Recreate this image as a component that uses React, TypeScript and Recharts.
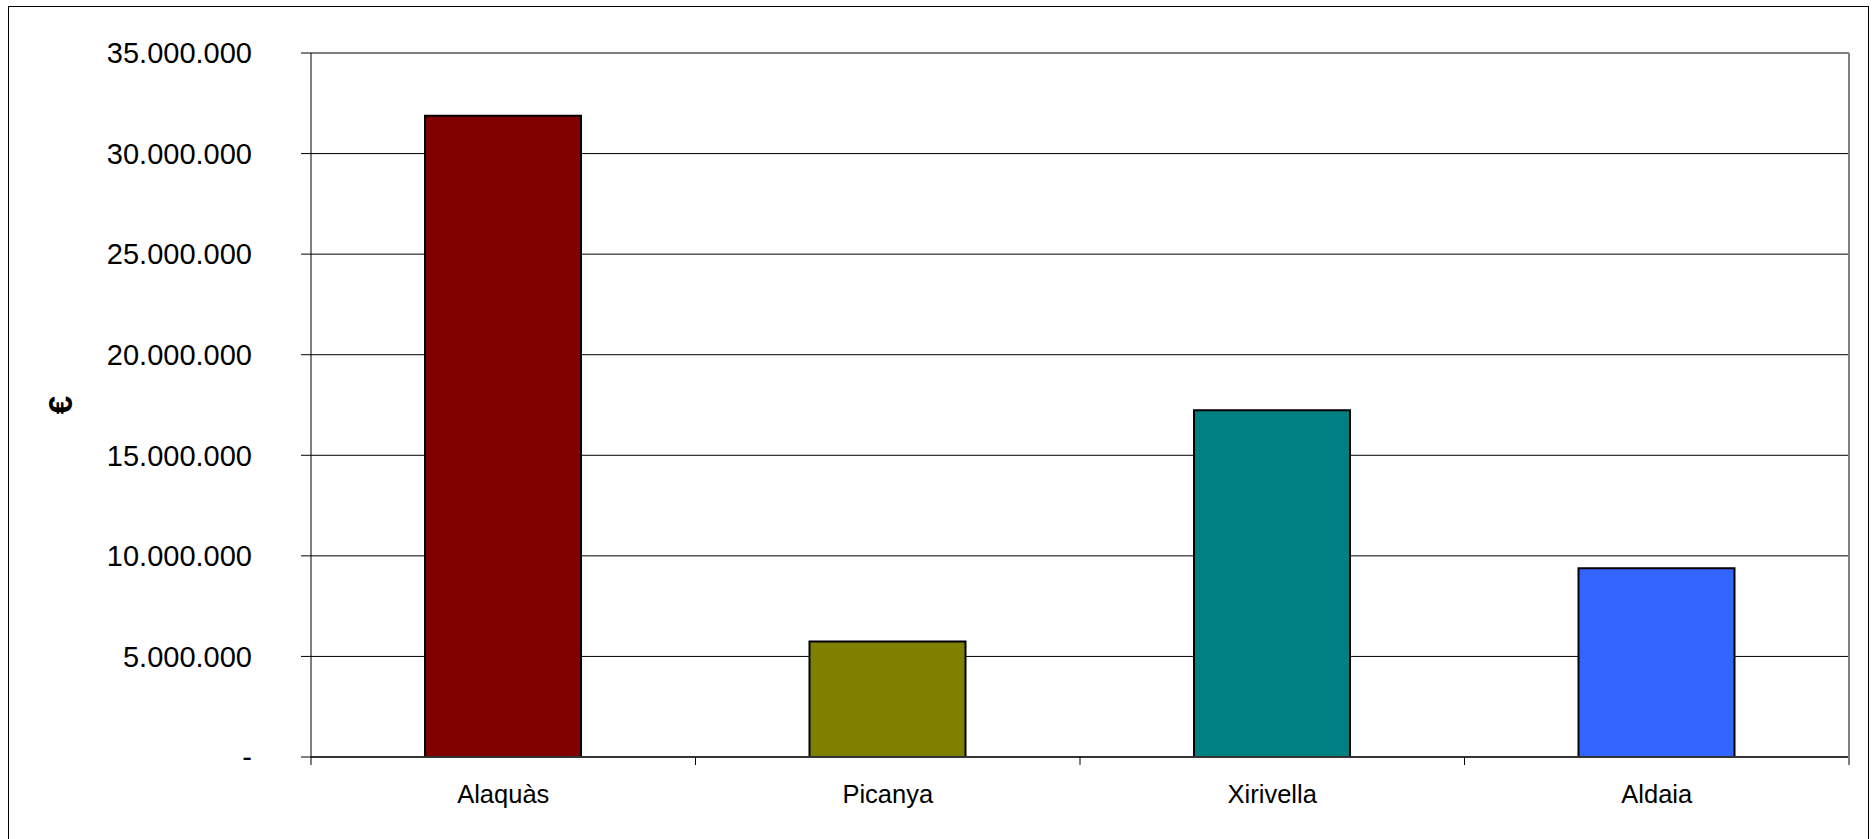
import { BarChart, Bar, XAxis, YAxis, CartesianGrid, Cell, ReferenceLine } from "recharts"

const municipalities = ["Alaquàs", "Picanya", "Xirivella", "Aldaia"]
const amounts = [31880000, 5740000, 17240000, 9390000]
const barColors = ["#800000", "#808000", "#008080", "#3366FF"]
const yTicks = [0, 5000000, 10000000, 15000000, 20000000, 25000000, 30000000, 35000000]

const W = 1872
const H = 839
const margin = { top: 53, right: 22, bottom: 32, left: 11 }
const Y_AXIS_W = 300
const X_AXIS_H = 50
const plotWidth = W - margin.left - margin.right - Y_AXIS_W - 1
const band = plotWidth / municipalities.length

const font = "'Liberation Sans', Arial, sans-serif"

const data = municipalities.map((name, i) => ({ name, value: amounts[i] }))

// thousands separated with dots, zero shown as a dash
const fmt = (v: number) => (v === 0 ? "-" : String(v).replace(/\B(?=(\d{3})+(?!\d))/g, "."))

function CategoryTick(props: any) {
  const { x, y, payload, index } = props
  const isLast = index === municipalities.length - 1
  return (
    <g>
      <line x1={x - band / 2} y1={y} x2={x - band / 2} y2={y + 8} stroke="#000" strokeWidth={1} />
      {isLast && <line x1={x + band / 2} y1={y} x2={x + band / 2} y2={y + 8} stroke="#808080" strokeWidth={2} />}
      <text x={x} y={y + 46} textAnchor="middle" fontSize={25.5} fontFamily={font} fill="#000">
        {payload.value}
      </text>
    </g>
  )
}

function EuroLabel(props: any) {
  const { viewBox } = props
  const cx = viewBox.x + 49
  const cy = viewBox.y + viewBox.height / 2
  return (
    <text
      x={cx}
      y={cy}
      transform={`rotate(-90 ${cx} ${cy})`}
      textAnchor="middle"
      dominantBaseline="central"
      fontSize={33}
      fontWeight="bold"
      fontFamily={font}
      fill="#000"
    >
      €
    </text>
  )
}

export default function App() {
  return (
    <div style={{ position: "absolute", left: 0, top: 0, width: W, height: H, overflow: "hidden", background: "#fff" }}>
      <div
        style={{
          position: "absolute",
          left: 8,
          top: 6,
          width: 1861,
          height: 900,
          border: "1px solid #000",
          boxSizing: "border-box",
        }}
      />
      <div style={{ position: "absolute", left: 0, top: 0 }}>
        <BarChart width={W} height={H} data={data} margin={margin} barCategoryGap={0}>
          <CartesianGrid vertical={false} stroke="#000" strokeWidth={1} />
          <XAxis
            dataKey="name"
            height={X_AXIS_H}
            axisLine={{ stroke: "#333", strokeWidth: 2 }}
            tickLine={false}
            tickSize={0}
            tickMargin={0}
            interval={0}
            tick={<CategoryTick />}
          />
          <YAxis
            width={Y_AXIS_W}
            domain={[0, 35000000]}
            ticks={yTicks}
            interval={0}
            tickFormatter={fmt}
            axisLine={{ stroke: "#000", strokeWidth: 1 }}
            tickLine={{ stroke: "#000", strokeWidth: 1 }}
            tickSize={10}
            tickMargin={49}
            tick={{ fontSize: 29, fontFamily: font, fill: "#000" }}
            label={<EuroLabel />}
          />
          <YAxis
            yAxisId="right"
            orientation="right"
            width={1}
            domain={[0, 35000000]}
            tick={false}
            tickLine={false}
            axisLine={{ stroke: "#808080", strokeWidth: 2 }}
          />
          <ReferenceLine y={35000000} stroke="#808080" strokeWidth={2} />
          <Bar dataKey="value" barSize={156} stroke="#000" strokeWidth={2} isAnimationActive={false}>
            {data.map((d, i) => (
              <Cell key={d.name} fill={barColors[i]} />
            ))}
          </Bar>
        </BarChart>
      </div>
    </div>
  )
}
